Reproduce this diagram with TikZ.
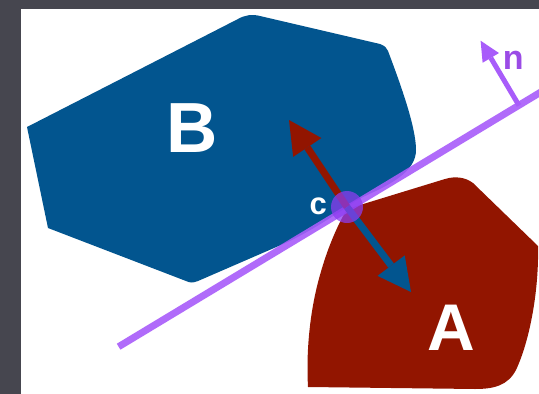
\documentclass[tikz,border=0pt]{standalone}
\usepackage{fontspec}
\setmainfont{Liberation Sans}
\usetikzlibrary{arrows.meta}
\definecolor{bodyblue}{HTML}{02558F}
\definecolor{bodyred}{HTML}{921500}
\definecolor{planepurple}{RGB}{168,92,250}
\definecolor{normalpurple}{HTML}{9B4BE6}
\definecolor{contactpurple}{RGB}{140,60,240}
\definecolor{slidegray}{HTML}{46464F}

\begin{document}
\begin{tikzpicture}[
        x=1pt, y=-1pt,
        every node/.style={inner sep=0pt, outer sep=0pt},
        bodylbl/.style={text=white, font=\bfseries\fontsize{#1}{#1}\selectfont},
        plane/.style={draw=planepurple, line width=7pt, draw opacity=0.9},
        force/.style={line width=7pt,
                      -{Triangle[length=33pt, width=34pt, line width=0pt]}},
        normalvec/.style={draw=planepurple, line width=5pt,
                          -{Triangle[length=20pt, width=19pt, line width=0pt]}},
        contact/.style={circle, fill=contactpurple, fill opacity=0.75,
                        minimum size=32pt}
    ]
        % --- Fondo ---
        \useasboundingbox (0,0) rectangle (539,394);
        \fill[slidegray] (0,0) rectangle (539,394);
        \fill[white] (21,9) rectangle (539,394);

        \begin{scope}
        \clip (21,9) rectangle (539,394);
        % --- Cuerpo B ---
        \fill[bodyblue] (27,127) -- (238,19)
            .. controls (245,15) and (252,14) .. (260,16) -- (380,44)
            .. controls (385,46) and (387,48) .. (388,51)
            .. controls (402,88) and (416,128) .. (416,150)
            .. controls (416,168) and (398,180) .. (378,190)
            .. controls (365,196) and (354,201) .. (347,207)
            .. controls (326,221) and (302,236) .. (281,245)
            -- (198,281) .. controls (193,283) and (190,283) .. (186,281)
            -- (48,228) -- cycle;

        % --- Cuerpo A ---
        \fill[bodyred] (347,209) -- (445,179)
            .. controls (455,176) and (465,177) .. (473,183)
            -- (538,246)
            .. controls (539,290) and (530,340) .. (516,370)
            .. controls (508,385) and (495,389) .. (475,389)
            -- (308,387)
            .. controls (306,350) and (310,310) .. (320,275)
            .. controls (327,250) and (336,228) .. (347,209) -- cycle;

        % --- Plano de contacto ---
        \coordinate (lineS) at (118.6,346.7);
        \coordinate (lineE) at (560,80.5);
        \draw[plane] (lineS) -- (lineE);
        \end{scope}

        % --- Fuerzas ---
        \coordinate (c) at (347,207);
        \coordinate (tipB) at (289,120);
        \coordinate (tipA) at (411,292);
        \draw[force, draw=bodyred, fill=bodyred] (c) -- (tipB);
        \draw[force, draw=bodyblue, fill=bodyblue] (c) -- (tipA);

        % --- Normal ---
        \coordinate (nbase) at (519,105.5);
        \coordinate (ntip) at (480.6,40.7);
        \draw[normalvec, fill=planepurple] (nbase) -- (ntip);
        \node[text=normalpurple, font=\bfseries\fontsize{34}{34}\selectfont]
            (nlbl) at (513.3,60.5) {n};

        % --- Punto de contacto ---
        \node[contact] (cpt) at (c) {};
        \node[bodylbl=31] (clbl) at (318.3,206.5) {c};

        % --- Etiquetas ---
        \node[bodylbl=71] (Blbl) at (192.5,128.5) {B};
        \node[bodylbl=66] (Albl) at (451.4,327.5) {A};
    \end{tikzpicture}
\end{document}
